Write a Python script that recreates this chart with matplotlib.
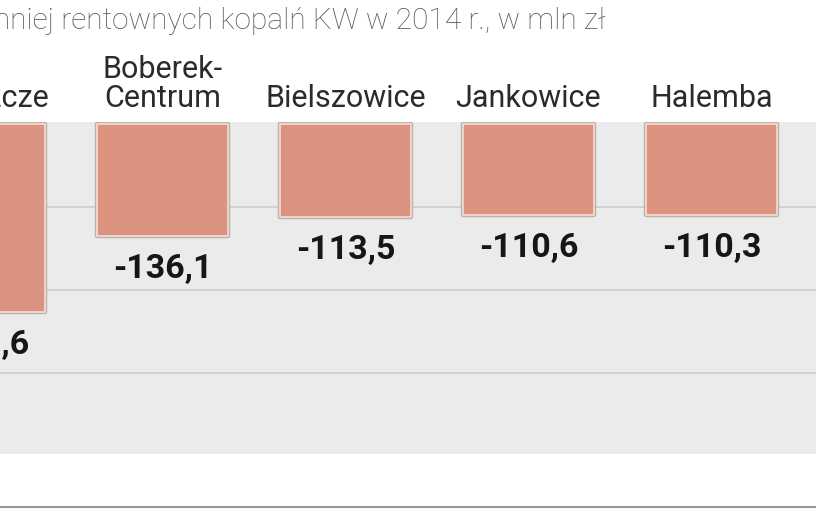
import matplotlib
matplotlib.use("Agg")
import matplotlib.pyplot as plt
import matplotlib.patheffects as pe
from matplotlib.lines import Line2D

# ---- data ----
categories = ["Brzeszcze", "Boberek-\nCentrum", "Bielszowice", "Jankowice", "Halemba"]
values = [-228.6, -136.1, -113.5, -110.6, -110.3]
title = "Wynik finansowy najmniej rentownych kopalń KW w 2014 r., w mln zł"
grid_levels = [-101, -202, -303]

W, H = 816, 510
fig = plt.figure(figsize=(W / 100, H / 100), dpi=100)
fig.patch.set_facecolor("white")

# axes spanning the grey band (pixel rows 123..455)
top_px, bot_px = 123, 455
ax = fig.add_axes([0, (H - bot_px) / H, 1, (bot_px - top_px) / H])
ax.set_facecolor("#eaebea")
px_per_unit = 0.822
ax.set_ylim(-(bot_px - 125) / px_per_unit, (125 - top_px) / px_per_unit)
spacing = 183.0
first_center = -20.5
ax.set_xlim((0 - first_center) / spacing, (W - first_center) / spacing)
for s in ax.spines.values():
    s.set_visible(False)
ax.set_xticks([])
ax.set_yticks(grid_levels)
ax.tick_params(left=False, labelleft=False)
ax.grid(axis="y", color="#cfd0cf", linewidth=1.3)
ax.set_axisbelow(True)

x = list(range(len(categories)))
bars = ax.bar(x, values, width=131 / spacing, color="#db927f",
              edgecolor="#f7ddd3", linewidth=1.2, joinstyle="round", zorder=3)
for b in bars:
    b.set_path_effects([pe.Stroke(linewidth=3.2, foreground="#bab3ad", joinstyle="round"),
                        pe.Normal()])

# value labels
for xi, v in zip(x, values):
    lab = f"{v:.1f}".replace(".", ",")
    ax.annotate(lab, (xi, v), xytext=(0, -11.5), textcoords="offset points",
                ha="center", va="top", fontsize=24.5, fontweight="bold",
                family="Roboto", color="#161616", zorder=5, annotation_clip=False)

# category labels
for xi, c in zip(x, categories):
    ax.annotate(c, (xi, 0), xytext=(0, 8.5), textcoords="offset points",
                ha="center", va="bottom", fontsize=22, family="Roboto",
                color="#2b2b2b", linespacing=1.0, annotation_clip=False)

# title (cut at the left edge like the reference)
fig.text(605 / W, (H - 29) / H, title, ha="right", va="baseline",
         fontsize=21.5, family="Roboto", fontweight="light", color="#555555")

# thin line at bottom edge
fig.add_artist(Line2D([0, 1], [(H - 508) / H] * 2, transform=fig.transFigure,
                      color="#9a9a9a", linewidth=1.5))

fig.savefig("out.png", dpi=100, facecolor="white")
